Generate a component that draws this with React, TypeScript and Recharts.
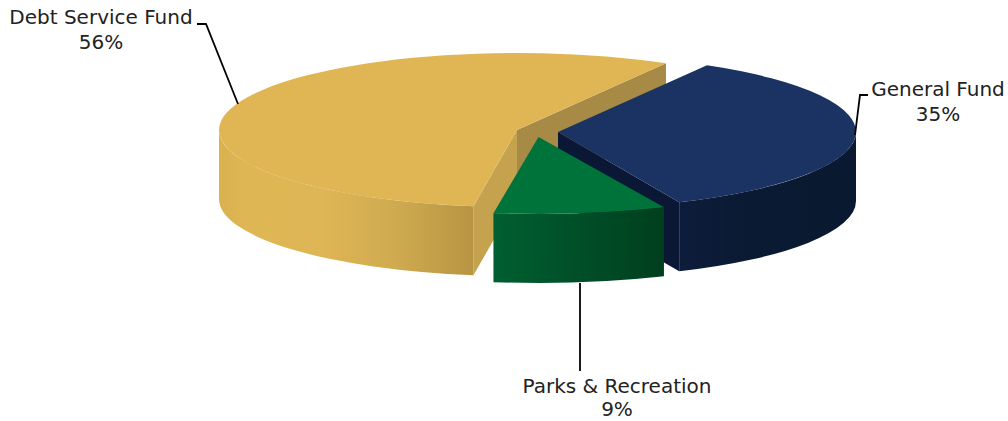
import React from "react";
import { Pie, PieChart } from "recharts";

// dollar share per fund, in percent
const funds = ["Debt Service Fund", "General Fund", "Parks & Recreation"];
const shares = [56, 35, 9];

const tableData = funds.map((name, i) => ({ name, value: shares[i] }));

const TILT = 0.2584; // squash of the pie into an ellipse
const DEPTH = 69;

const looks: Record<string, any> = {
  "Debt Service Fund": {
    dx: 0,
    dy: 0,
    stretch: 1,
    top: "#e0b654",
    wall: [
      [0, "#d9b14f"],
      [0.1, "#dfb654"],
      [0.4, "#dfb655"],
      [0.7, "#cfaa50"],
      [1, "#b89543"],
    ],
    x1: 219,
    x2: 472,
    faceStart: "#a68a45",
    faceEnd: "#c5a24e",
    text: { x: 101, y: 24, gap: 25 },
    line: "197,24 206,24 238,104",
  },
  "General Fund": {
    dx: 41,
    dy: 2,
    stretch: 1,
    top: "#1a3363",
    wall: [
      [0, "#0d1c3a"],
      [0.4, "#0a1a32"],
      [1, "#0a1930"],
    ],
    x1: 680,
    x2: 856,
    faceStart: "#0a1735",
    faceEnd: "#0a1735",
    text: { x: 938, y: 96, gap: 25 },
    line: "868,95 860,95 855,135",
  },
  "Parks & Recreation": {
    dx: 21.5,
    dy: 7,
    stretch: 1.035,
    top: "#00733a",
    wall: [
      [0, "#005f31"],
      [0.5, "#004f28"],
      [1, "#003f1e"],
    ],
    x1: 492,
    x2: 663,
    faceStart: "#005f31",
    faceEnd: "#005f31",
    text: { x: 617, y: 392.5, gap: 23.5 },
    line: "580,283 580,371",
  },
};

const rad = (deg: number) => (deg * Math.PI) / 180;

// one slab of the pie, worked out from the angles recharts hands over
const SliceShape = (props: any) => {
  const { cx, cy, outerRadius, startAngle, endAngle, name } = props;
  const look = looks[name];
  const rx = outerRadius * look.stretch;
  const ry = outerRadius * TILT;
  const ox = cx + look.dx;
  const oy = cy + look.dy;

  let a = Math.min(startAngle, endAngle);
  const span = Math.abs(endAngle - startAngle);
  a = ((a % 360) + 360) % 360;
  const b = a + span;

  const pt = (deg: number, drop = 0) =>
    `${ox + rx * Math.cos(rad(deg))} ${oy + drop - ry * Math.sin(rad(deg))}`;

  const topPath = `M${ox} ${oy} L${pt(a)} A${rx} ${ry} 0 ${span > 180 ? 1 : 0} 0 ${pt(b)} Z`;

  // outer wall only shows on the front half of the ellipse
  const walls: string[] = [];
  [
    [180, 360],
    [540, 720],
  ].forEach(([lo, hi]) => {
    const t0 = Math.max(a, lo);
    const t1 = Math.min(b, hi);
    if (t1 > t0) {
      walls.push(
        `M${pt(t0)} A${rx} ${ry} 0 0 0 ${pt(t1)} L${pt(t1, DEPTH)} A${rx} ${ry} 0 0 1 ${pt(t0, DEPTH)} Z`
      );
    }
  });

  const face = (deg: number) =>
    `M${ox} ${oy} L${pt(deg)} L${pt(deg, DEPTH)} L${ox} ${oy + DEPTH} Z`;

  const gradId = `wall-${funds.indexOf(name)}`;

  return (
    <g style={{ filter: "blur(0.6px)" }}>
      <defs>
        <linearGradient id={gradId} gradientUnits="userSpaceOnUse" x1={look.x1} x2={look.x2} y1={0} y2={0}>
          {look.wall.map(([o, c]: any) => (
            <stop key={o} offset={o} stopColor={c} />
          ))}
        </linearGradient>
      </defs>
      {Math.cos(rad(a)) > 0 && <path d={face(a)} fill={look.faceStart} />}
      {Math.cos(rad(b)) < 0 && <path d={face(b)} fill={look.faceEnd} />}
      {walls.map((d) => (
        <path key={d} d={d} fill={`url(#${gradId})`} />
      ))}
      <path d={topPath} fill={look.top} />
    </g>
  );
};

const renderLabel = (props: any) => {
  const look = looks[props.name];
  const fontStyle = { fontFamily: "DejaVu Sans", fontSize: 20, fill: "#222" };
  return (
    <g>
      <polyline points={look.line} fill="none" stroke="#000" strokeWidth={1.8} />
      <text x={look.text.x} y={look.text.y} textAnchor="middle" {...fontStyle}>
        {props.name}
      </text>
      <text x={look.text.x} y={look.text.y + look.text.gap} textAnchor="middle" {...fontStyle}>
        {props.value}%
      </text>
    </g>
  );
};

export default function App() {
  return (
    <div style={{ position: "absolute", left: 0, top: 0, width: 1008, height: 421 }}>
      <PieChart width={1008} height={421} margin={{ top: 0, right: 0, bottom: 0, left: 0 }}>
        <Pie
          data={tableData}
          dataKey="value"
          nameKey="name"
          cx={517}
          cy={130}
          innerRadius={0}
          outerRadius={298}
          startAngle={261.6}
          endAngle={-98.4}
          stroke="none"
          shape={SliceShape}
          inactiveShape={SliceShape}
          activeShape={SliceShape}
          label={renderLabel}
          labelLine={false}
          isAnimationActive={false}
        />
      </PieChart>
    </div>
  );
}
